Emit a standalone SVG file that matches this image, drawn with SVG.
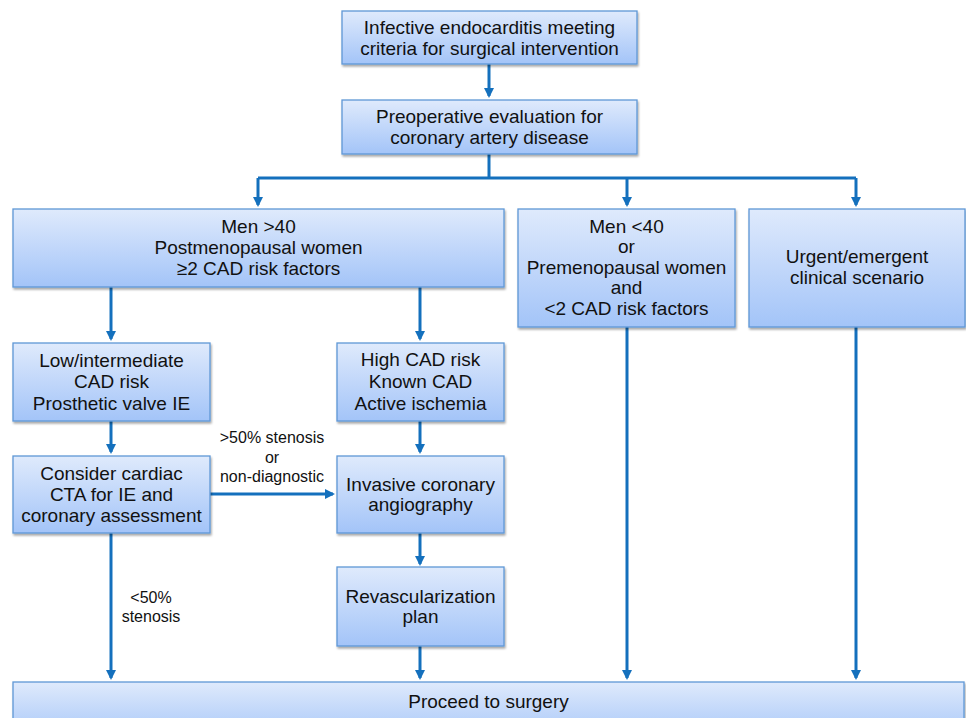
<svg xmlns="http://www.w3.org/2000/svg" width="966" height="718" viewBox="0 0 966 718">
<defs>
<linearGradient id="g" x1="0" y1="0" x2="0" y2="1">
<stop offset="0" stop-color="#dfeafc"/>
<stop offset="1" stop-color="#a3c4f8"/>
</linearGradient>
<filter id="sh" x="-5%" y="-5%" width="110%" height="120%">
<feGaussianBlur in="SourceAlpha" stdDeviation="1.2"/>
<feOffset dx="1" dy="2" result="b"/>
<feComponentTransfer><feFuncA type="linear" slope="0.35"/></feComponentTransfer>
<feMerge><feMergeNode/><feMergeNode in="SourceGraphic"/></feMerge>
</filter>
<marker id="ah" markerWidth="10" markerHeight="10" refX="8" refY="5" orient="auto" markerUnits="userSpaceOnUse">
<path d="M0,0 L10,5 L0,10 Z" fill="#1470bd"/>
</marker>
</defs>
<style>
.box{fill:url(#g);stroke:#5f97d6;stroke-width:1.3;filter:url(#sh)}
.t{font-family:"Liberation Sans",Arial,sans-serif;font-size:19px;fill:#111;text-anchor:middle}
.l{font-family:"Liberation Sans",Arial,sans-serif;font-size:16px;fill:#111;text-anchor:middle}
.c{fill:none;stroke:#1470bd;stroke-width:3}
</style>
<rect width="966" height="718" fill="#fff"/>
<g id="connectors">
<path class="c" d="M489,64 V96" marker-end="url(#ah)"/>
<path class="c" d="M489,154 V178"/>
<path class="c" d="M258,178 H856"/>
<path class="c" d="M258,178 V205" marker-end="url(#ah)"/>
<path class="c" d="M627,178 V205" marker-end="url(#ah)"/>
<path class="c" d="M856,178 V205" marker-end="url(#ah)"/>
<path class="c" d="M111,287 V339" marker-end="url(#ah)"/>
<path class="c" d="M420,287 V339" marker-end="url(#ah)"/>
<path class="c" d="M111,421 V452" marker-end="url(#ah)"/>
<path class="c" d="M420,421 V452" marker-end="url(#ah)"/>
<path class="c" d="M210,494 H333" marker-end="url(#ah)"/>
<path class="c" d="M420,533 V564" marker-end="url(#ah)"/>
<path class="c" d="M111,533 V678" marker-end="url(#ah)"/>
<path class="c" d="M420,646 V678" marker-end="url(#ah)"/>
<path class="c" d="M627,327 V678" marker-end="url(#ah)"/>
<path class="c" d="M856,327 V678" marker-end="url(#ah)"/>
<text class="l" x="272" y="443">&gt;50% stenosis</text>
<text class="l" x="272" y="463">or</text>
<text class="l" x="272" y="482">non-diagnostic</text>
<text class="l" x="151" y="603">&lt;50%</text>
<text class="l" x="151" y="622">stenosis</text>
</g>
<g id="n1"><rect class="box" x="342" y="11" width="295" height="53"/>
<text class="t" x="489.5" y="34">Infective endocarditis meeting</text>
<text class="t" x="489.5" y="55">criteria for surgical intervention</text></g>
<g id="n2"><rect class="box" x="342" y="100" width="295" height="54"/>
<text class="t" x="489.5" y="123">Preoperative evaluation for</text>
<text class="t" x="489.5" y="144">coronary artery disease</text></g>
<g id="n3"><rect class="box" x="13" y="209" width="491" height="78"/>
<text class="t" x="258.5" y="233">Men &gt;40</text>
<text class="t" x="258.5" y="254">Postmenopausal women</text>
<text class="t" x="258.5" y="275">≥2 CAD risk factors</text></g>
<g id="n4"><rect class="box" x="518" y="209" width="217" height="118"/>
<text class="t" x="626.5" y="233">Men &lt;40</text>
<text class="t" x="626.5" y="253">or</text>
<text class="t" x="626.5" y="274">Premenopausal women</text>
<text class="t" x="626.5" y="294">and</text>
<text class="t" x="626.5" y="315">&lt;2 CAD risk factors</text></g>
<g id="n5"><rect class="box" x="749" y="209" width="216" height="118"/>
<text class="t" x="857" y="263">Urgent/emergent</text>
<text class="t" x="857" y="284">clinical scenario</text></g>
<g id="n6"><rect class="box" x="13" y="343" width="197" height="78"/>
<text class="t" x="111.5" y="367">Low/intermediate</text>
<text class="t" x="111.5" y="388">CAD risk</text>
<text class="t" x="111.5" y="410">Prosthetic valve IE</text></g>
<g id="n7"><rect class="box" x="337" y="343" width="167" height="78"/>
<text class="t" x="420.5" y="366">High CAD risk</text>
<text class="t" x="420.5" y="388">Known CAD</text>
<text class="t" x="420.5" y="410">Active ischemia</text></g>
<g id="n8"><rect class="box" x="13" y="456" width="197" height="77"/>
<text class="t" x="111.5" y="480">Consider cardiac</text>
<text class="t" x="111.5" y="501">CTA for IE and</text>
<text class="t" x="111.5" y="522">coronary assessment</text></g>
<g id="n9"><rect class="box" x="337" y="456" width="167" height="77"/>
<text class="t" x="420.5" y="491">Invasive coronary</text>
<text class="t" x="420.5" y="511">angiography</text></g>
<g id="n10"><rect class="box" x="337" y="567" width="167" height="79"/>
<text class="t" x="420.5" y="603">Revascularization</text>
<text class="t" x="420.5" y="623">plan</text></g>
<g id="n11"><rect class="box" x="13" y="682" width="951" height="60"/>
<text class="t" x="488.5" y="708">Proceed to surgery</text></g>
</svg>
